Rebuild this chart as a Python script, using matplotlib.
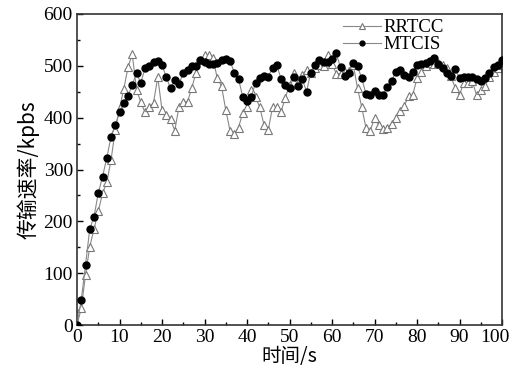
import matplotlib
matplotlib.use("Agg")
import matplotlib.pyplot as plt
import matplotlib.transforms as mtransforms
from matplotlib.ticker import MultipleLocator

t = list(range(0, 101))
rrtcc = [0, 32, 96, 151, 185, 219, 254, 275, 318, 376, 418, 455, 497, 523, 454, 430, 410, 420, 429, 478,
         415, 405, 397, 375, 421, 431, 431, 457, 487, 512, 521, 521, 515, 476, 461, 415, 375, 368, 381, 409,
         420, 454, 440, 420, 386, 376, 420, 420, 411, 438, 463, 487, 467, 483, 492, 487, 495, 502, 500, 521,
         504, 485, 485, 488, 490, 502, 457, 420, 380, 375, 399, 386, 378, 380, 388, 399, 412, 423, 441, 444,
         476, 489, 499, 505, 503, 505, 502, 496, 480, 457, 444, 467, 467, 470, 444, 454, 461, 478, 488, 496, 502]
mtcis = [0, 48, 116, 185, 209, 254, 286, 322, 363, 386, 410, 429, 442, 463, 486, 467, 495, 500, 508, 510,
         502, 478, 457, 472, 465, 486, 491, 500, 500, 512, 508, 504, 504, 505, 512, 513, 510, 487, 475, 440,
         432, 440, 467, 476, 481, 479, 496, 502, 475, 463, 457, 479, 461, 475, 450, 487, 502, 512, 508, 507,
         513, 524, 497, 481, 487, 506, 499, 476, 446, 444, 452, 444, 444, 459, 470, 489, 491, 483, 478, 489,
         502, 503, 505, 510, 515, 504, 496, 487, 481, 494, 476, 478, 479, 478, 474, 470, 476, 486, 497, 502, 512]
labels = ["RRTCC", "MTCIS"]
xticks = list(range(0, 101, 10))
yticks = list(range(0, 601, 100))
xlabel = "时间/s"
ylabel = "传输速率/kpbs"

serif = ["Liberation Serif", "Noto Sans CJK SC"]
plt.rcParams["font.family"] = serif
plt.rcParams["font.size"] = 14

fig = plt.figure(figsize=(5.15, 3.76), dpi=100)
ax = fig.add_axes([77/515, 51/376, 425/515, 311/376])

ax.plot(t, rrtcc, color="#888888", lw=0.8, marker="^", ms=6, mfc="white", mec="#777777", mew=0.8, label=labels[0], zorder=2)
ax.plot(t, mtcis, color="#888888", lw=0.8, marker="o", ms=5, mfc="black", mec="black", label=labels[1], zorder=3)

ax.set_xlim(0, 100)
ax.set_ylim(0, 600)
ax.set_xticks(xticks)
ax.set_yticks(yticks)
ax.xaxis.set_minor_locator(MultipleLocator(5))
ax.yaxis.set_minor_locator(MultipleLocator(50))
ax.tick_params(which="both", direction="in", top=False, right=False, labelsize=14, pad=3)
ax.tick_params(which="major", length=4, width=1)
ax.tick_params(which="minor", length=2.5, width=1)
for s in ax.spines.values():
    s.set_linewidth(1.2)
    s.set_color("#333333")

last = ax.xaxis.get_major_ticks()[-1].label1
last.set_transform(last.get_transform() + mtransforms.ScaledTranslation(-7/100, 0, fig.dpi_scale_trans))

ax.set_xlabel(xlabel, fontsize=14, family=["Noto Sans CJK SC", "Liberation Serif"], labelpad=0)
ax.set_ylabel(ylabel, fontsize=15, family=["Noto Sans CJK SC", "Liberation Serif"], labelpad=3)

leg = ax.legend(loc="upper left", frameon=False, fontsize=13.5, handlelength=2.0, handletextpad=0.15,
                labelspacing=0.0, borderaxespad=0, borderpad=0, markerscale=0.7,
                bbox_to_anchor=(343/515, 1 - 19/376), bbox_transform=fig.transFigure)

fig.savefig("out.png", dpi=100)
